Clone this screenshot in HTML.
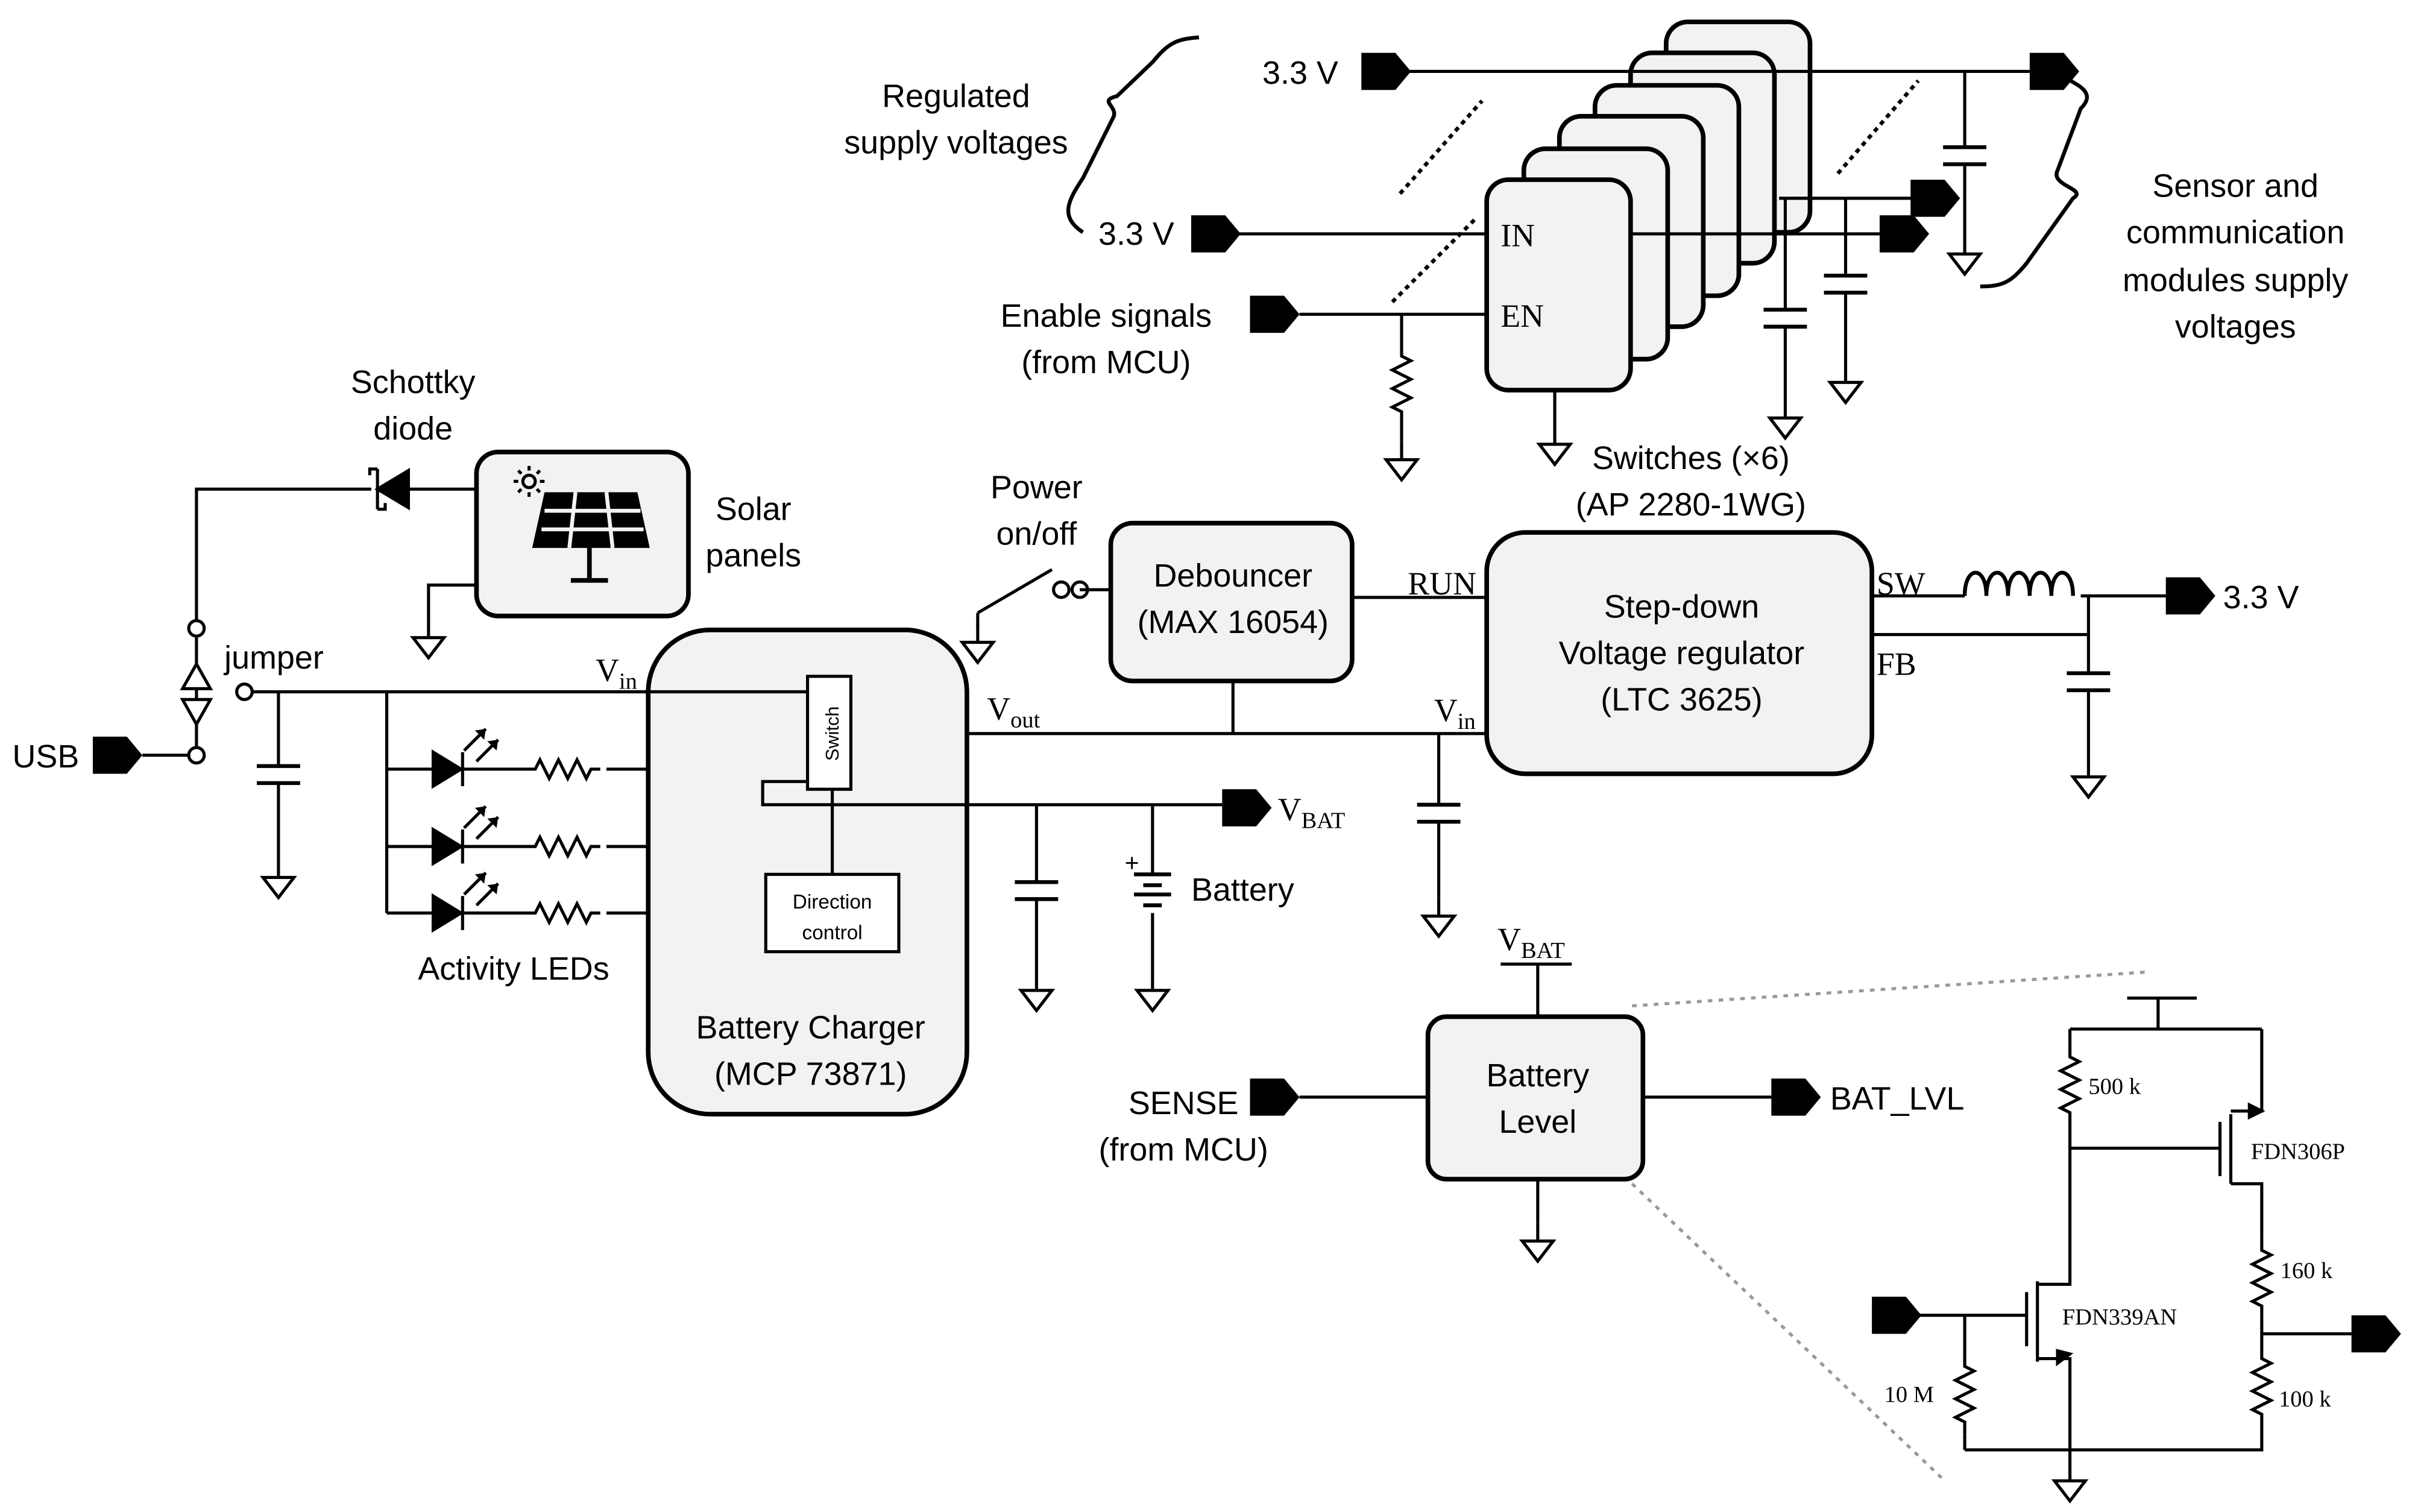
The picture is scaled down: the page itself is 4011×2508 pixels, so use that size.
<!DOCTYPE html>
<html><head><meta charset="utf-8"><style>
html,body{margin:0;padding:0;background:#fff}
svg{display:block}
.s{font-family:"Liberation Sans",sans-serif;font-size:21px;fill:#000}
.r{font-family:"Liberation Serif",serif;font-size:21px;fill:#000}
.rs{font-family:"Liberation Serif",serif;font-size:15px;fill:#000}
</style></head><body>
<svg width="4011" height="2508" viewBox="0 0 1563 977" xmlns="http://www.w3.org/2000/svg">
<defs>
<path id="fl" d="M0,-12 h22 l10,12 l-10,12 h-22 z" fill="#000"/>
<g id="gnd" fill="#fff" stroke="#000" stroke-width="2"><path d="M0,0 v12"/><path d="M-10,12 h20 l-10,13 z"/></g>
<path id="rv" d="M0,0 v8 l6,3 l-12,6 l12,6 l-12,6 l12,6 l-12,6 l6,3 v8" fill="none" stroke="#000" stroke-width="2"/>
<path id="rh" d="M0,0 h6 l3,-6 l6,12 l6,-12 l6,12 l6,-12 l6,12 l3,-6 h6" fill="none" stroke="#000" stroke-width="2"/>
<path id="cv" d="M-14,0 h28 M-14,11 h28" stroke="#000" stroke-width="2.5"/>
</defs>
<rect width="1563" height="977" fill="#fff"/>
<g fill="none" stroke="#000" stroke-width="2">

<g fill="#f2f2f2" stroke-width="3">
<rect x="1077" y="14" width="93" height="136" rx="14"/>
<rect x="1054" y="34" width="93" height="136" rx="14"/>
<rect x="1031" y="55" width="93" height="136" rx="14"/>
<rect x="1008" y="75" width="93" height="136" rx="14"/>
<rect x="985" y="96" width="93" height="136" rx="14"/>
<rect x="961" y="116" width="93" height="136" rx="14"/>
</g>
<path d="M908,46 H1312"/>
<path d="M800,151 H961"/>
<path d="M840,203 H961"/>
<path d="M1054,151 H1215 M1150,128 H1240"/>
<path d="M906,203 V222"/><use href="#rv" x="906" y="222"/><path d="M906,274 V285"/><use href="#gnd" x="906" y="285"/>
<path d="M1154,128 V200 M1154,211 V258"/><use href="#cv" x="1154" y="200"/><use href="#gnd" x="1154" y="258"/>
<path d="M1193,128 V178 M1193,189 V235"/><use href="#cv" x="1193" y="178"/><use href="#gnd" x="1193" y="235"/>
<path d="M1270,46 V95 M1270,106 V152"/><use href="#cv" x="1270" y="95"/><use href="#gnd" x="1270" y="152"/>
<path d="M1005,252 V275"/><use href="#gnd" x="1005" y="275"/>
<path d="M905,125 L958,65 M900,195 L955,140 M1188,112 L1240,52" stroke-dasharray="3,3" stroke-width="2.5"/>
<path d="M700,150 C685,140 690,130 700,115 L720,75 C722,68 710,65 722,62 L745,40 C755,28 760,25 775,24" stroke-width="2.5"/>
<path d="M1330,48 C1345,55 1355,60 1345,70 L1330,110 C1325,120 1350,122 1340,128 L1310,170 C1300,182 1295,185 1280,185" stroke-width="2.5"/>

<rect x="961" y="344" width="249" height="156" rx="25" fill="#f2f2f2" stroke-width="3"/>
<path d="M1210,385 H1270 M1345,385 H1400"/>
<path d="M1270,385 c0,-20 14,-20 14,0 c0,-20 14,-20 14,0 c0,-20 14,-20 14,0 c0,-20 14,-20 14,0 c0,-20 14,-20 14,0" stroke-width="2.5"/>
<path d="M1210,410 H1350 M1350,385 V435 M1350,446 V490"/><use href="#cv" x="1350" y="435"/><use href="#gnd" x="1350" y="490"/>

<rect x="718" y="338" width="156" height="102" rx="14" fill="#f2f2f2" stroke-width="3"/>
<path d="M874,386 H961"/>
<path d="M550,474 H961 M797,440 V474"/>
<path d="M930,474 V520 M930,531 V580"/><use href="#cv" x="930" y="520"/><use href="#gnd" x="930" y="580"/>
<circle cx="686" cy="381" r="5" fill="#fff"/><circle cx="698" cy="381" r="5"/>
<path d="M632,396 L680,368 M698,381 H718 M632,396 V405"/><use href="#gnd" x="632" y="403"/>

<rect x="419" y="407" width="206" height="313" rx="40" fill="#f2f2f2" stroke-width="3"/>
<path d="M160,447 H522"/>
<rect x="522" y="437" width="28" height="73" fill="#fff"/>
<rect x="495" y="565" width="86" height="50" fill="#fff"/>
<path d="M538,510 V565 M522,505 H493 V520 H790"/>
<path d="M670,520 V570 M670,581 V628"/><use href="#cv" x="670" y="570"/><use href="#gnd" x="670" y="628"/>
<path d="M745,520 V565 M745,590 V628"/><use href="#gnd" x="745" y="628"/>
<path d="M733,565 h24 M739,572 h12 M733,578 h24 M739,585 h12" stroke-width="2.5"/>

<path d="M250,447 V590"/>
<g>
<path d="M250,497 H280 M300,497 H340 M392,497 H420"/><path d="M280,486 v22 l18,-11 z" fill="#000"/><path d="M299,486 v22"/><use href="#rh" x="340" y="497"/>
<path d="M300,485 l14,-14 M308,492 l14,-14"/>
<path d="M250,547 H280 M300,547 H340 M392,547 H420"/><path d="M280,536 v22 l18,-11 z" fill="#000"/><path d="M299,536 v22"/><use href="#rh" x="340" y="547"/>
<path d="M300,535 l14,-14 M308,542 l14,-14"/>
<path d="M250,590 H280 M300,590 H340 M392,590 H420"/><path d="M280,579 v22 l18,-11 z" fill="#000"/><path d="M299,579 v22"/><use href="#rh" x="340" y="590"/>
<path d="M300,578 l14,-14 M308,585 l14,-14"/>
</g>
<g fill="#000" stroke="none"><path d="M314,471 l-7,1 l6,6z M322,478 l-7,1 l6,6z M314,521 l-7,1 l6,6z M322,528 l-7,1 l6,6z M314,564 l-7,1 l6,6z M322,571 l-7,1 l6,6z"/></g>

<path d="M92,488 H127 M127,488 V411 M127,401 V316 H240 M265,316 H308"/>
<path d="M118,445 h18 l-9,-16 z M118,452 h18 l-9,16 z" fill="#fff"/>
<circle cx="127" cy="488" r="5" fill="#fff"/><circle cx="127" cy="406" r="5" fill="#fff"/><circle cx="158" cy="447" r="5" fill="#fff"/>
<path d="M264,304 v24 l-20,-12 z" fill="#000"/><path d="M244,303 v26 M244,303 h-5 v4 M244,329 h5 v-4"/>
<rect x="308" y="292" width="137" height="106" rx="14" fill="#f2f2f2" stroke-width="3"/>
<path d="M308,378 H277 V400"/><use href="#gnd" x="277" y="400"/>
<path d="M180,447 V495 M180,506 V555"/><use href="#cv" x="180" y="495"/><use href="#gnd" x="180" y="555"/>
<g fill="#000" stroke="none"><path d="M352,318 h60 l8,36 h-76 z"/></g>
<path d="M352,330 h62 M350,342 h66 M372,318 l-4,36 M392,318 l4,36" stroke="#f2f2f2" stroke-width="2.5"/>
<path d="M381,354 v20 M369,375 h24" stroke-width="3"/>
<circle cx="342" cy="311" r="4"/><path d="M342,301 v3 M342,318 v3 M332,311 h3 M349,311 h3 M335,304 l2,2 M347,316 l2,2 M349,304 l-2,2 M337,316 l-2,2"/>

<rect x="923" y="657" width="139" height="105" rx="12" fill="#f2f2f2" stroke-width="3"/>
<path d="M970,623 H1016 M994,623 V657 M840,709 H923 M1062,709 H1145 M994,762 V790"/><use href="#gnd" x="994" y="790"/>
<path d="M1055,650 L1390,628 M1055,765 L1255,955" stroke="#999" stroke-dasharray="3,4"/>

<path d="M1375,645 H1420 M1395,645 V665 M1338,665 H1462 M1338,665 V675"/><use href="#rv" x="1338" y="675"/>
<path d="M1338,727 V810 M1338,742 H1435 M1435,725 V760 M1442,720 V765 M1442,718 H1462 V665 M1442,765 H1462 V800"/>
<path d="M1462,718 l-8,-4 v8 z" fill="#000"/>
<use href="#rv" x="1462" y="800"/><path d="M1462,852 V870"/><use href="#rv" x="1462" y="870"/><path d="M1462,922 V937 H1270"/>
<path d="M1462,862 H1520"/>
<path d="M1240,850 H1310 M1310,835 V870 M1317,828 V880 M1317,830 H1338 V810 M1317,878 H1338 V937 M1338,937 V945"/><use href="#gnd" x="1338" y="945"/>
<path d="M1338,875 l-8,-2 v8z" fill="#000"/>
<path d="M1270,850 V875"/><use href="#rv" x="1270" y="875"/><path d="M1270,927 V937"/>
</g>

<use href="#fl" x="880" y="46"/><use href="#fl" x="1312" y="46"/><use href="#fl" x="770" y="151"/>
<use href="#fl" x="808" y="203"/><use href="#fl" x="1215" y="151"/><use href="#fl" x="1235" y="128"/>
<use href="#fl" x="1400" y="385"/><use href="#fl" x="790" y="522"/><use href="#fl" x="60" y="488"/>
<use href="#fl" x="808" y="709"/><use href="#fl" x="1145" y="709"/><use href="#fl" x="1520" y="862"/><use href="#fl" x="1210" y="850"/>

<g class="s" text-anchor="middle">
<text x="618" y="69">Regulated</text><text x="618" y="99">supply voltages</text>
<text x="1445" y="127">Sensor and</text><text x="1445" y="157">communication</text><text x="1445" y="188">modules supply</text><text x="1445" y="218">voltages</text>
<text x="715" y="211">Enable signals</text><text x="715" y="241">(from MCU)</text>
<text x="1093" y="303">Switches  (×6)</text><text x="1093" y="333">(AP 2280-1WG)</text>
<text x="1087" y="399">Step-down</text><text x="1087" y="429">Voltage regulator</text><text x="1087" y="459">(LTC 3625)</text>
<text x="797" y="379">Debouncer</text><text x="797" y="409">(MAX 16054)</text>
<text x="670" y="322">Power</text><text x="670" y="352">on/off</text>
<text x="524" y="671">Battery Charger</text><text x="524" y="701">(MCP 73871)</text>
<text x="332" y="633">Activity LEDs</text>
<text x="267" y="254">Schottky</text><text x="267" y="284">diode</text>
<text x="487" y="336">Solar</text><text x="487" y="366">panels</text>
<text x="994" y="702">Battery</text><text x="994" y="732">Level</text>
<text x="765" y="720">SENSE</text><text x="765" y="750">(from MCU)</text>
</g>
<g class="s">
<text x="816" y="54">3.3 V</text><text x="710" y="158">3.3 V</text><text x="1437" y="393">3.3 V</text>
<text x="8" y="496">USB</text><text x="145" y="432">jumper</text><text x="770" y="582">Battery</text><text x="1183" y="717">BAT_LVL</text>
<text x="727" y="563" font-size="16">+</text>
</g>
<g class="s" font-size="13" text-anchor="middle"><text x="538" y="587" font-size="13">Direction</text><text x="538" y="607" font-size="13">control</text>
<text transform="translate(542,474) rotate(-90)" font-size="12">Switch</text></g>
<g class="r">
<text x="970" y="159">IN</text><text x="970" y="211">EN</text>
<text x="910" y="384">RUN</text><text x="1213" y="384">SW</text><text x="1213" y="436">FB</text>
<text x="927" y="466">V<tspan font-size="15" dy="5">in</tspan></text>
<text x="385" y="440">V<tspan font-size="15" dy="5">in</tspan></text>
<text x="638" y="465">V<tspan font-size="15" dy="5">out</tspan></text>
<text x="826" y="530">V<tspan font-size="15" dy="5">BAT</tspan></text>
<text x="968" y="614">V<tspan font-size="15" dy="5">BAT</tspan></text>
</g>
<g class="rs">
<text x="1350" y="707">500 k</text><text x="1455" y="749">FDN306P</text><text x="1474" y="826">160 k</text>
<text x="1333" y="856">FDN339AN</text><text x="1218" y="906">10 M</text><text x="1473" y="909">100 k</text>
</g>
</svg>
</body></html>
